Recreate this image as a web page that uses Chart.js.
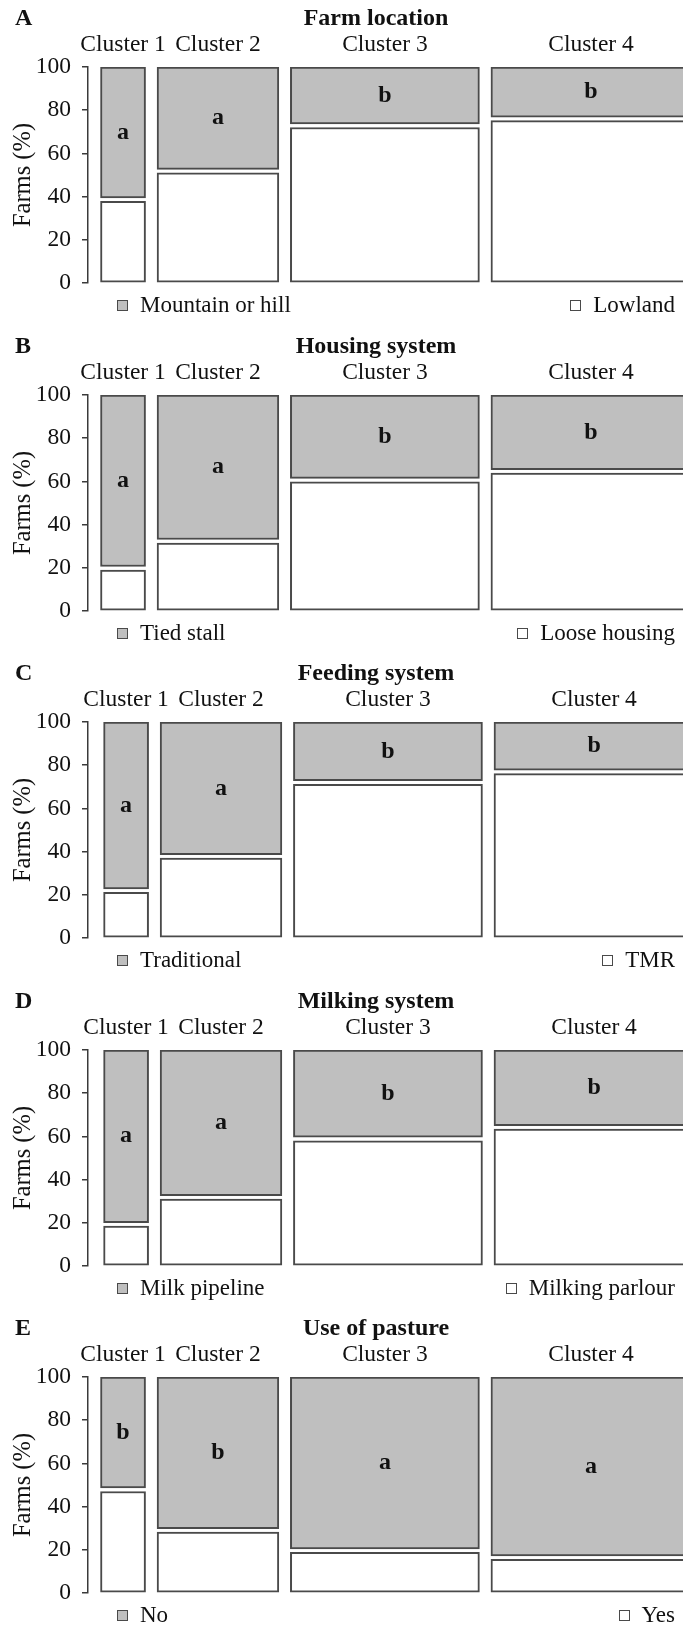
<!DOCTYPE html>
<html lang="en">
<head>
<meta charset="UTF-8">
<title>Farm characteristics by cluster</title>
<script src="https://cdn.jsdelivr.net/npm/chart.js"></script>
<style>
  body { margin: 0; background: #fff; }
  #figure { position: relative; width: 683px; height: 1625px; overflow: hidden;
            font-family: "Liberation Serif", "DejaVu Serif", serif; color: #111; }
  .panel { position: absolute; left: 0; width: 683px; height: 328px; }
  .panel canvas { position: absolute; left: 0; top: 0; }
  .letter, .title { position: absolute; top: 3px; font-weight: bold; font-size: 24px; line-height: 28px; white-space: nowrap; }
  .letter { left: 15px; }
  .title { left: 376px; transform: translateX(-50%); }
  .legend { position: absolute; top: 291px; font-size: 23px; line-height: 28px; white-space: nowrap;
            display: flex; align-items: center; }
  .legend.left { left: 117px; }
  .legend.right { right: 8px; }
  .swatch { display: inline-block; width: 9px; height: 9px; border: 1.5px solid #4a4a4a; margin-right: 12px; }
</style>
</head>
<body>
<div id="figure"></div>

<script>
// cluster names and their share of farms (column widths of the mosaic)
const clusterNames = ['Cluster 1', 'Cluster 2', 'Cluster 3', 'Cluster 4'];
const clusterShare = [8.1, 21.9, 34.0, 36.0];

const panelLetters = ['A', 'B', 'C', 'D', 'E'];
const panelTitles = ['Farm location', 'Housing system', 'Feeding system', 'Milking system', 'Use of pasture'];
const upperLabels = ['Mountain or hill', 'Tied stall', 'Traditional', 'Milk pipeline', 'No'];   // grey part
const lowerLabels = ['Lowland', 'Loose housing', 'TMR', 'Milking parlour', 'Yes'];           // white part

// % of farms in the lower (white) category per cluster
const lowland        = [38.6, 51.8, 72.8, 76.0];
const looseHousing   = [19.8, 32.3, 60.6, 64.6];
const tmr            = [21.9, 37.8, 72.0, 76.9];
const milkingParlour = [19.3, 31.8, 58.8, 64.2];
const pastureYes     = [47.8, 29.0, 19.6, 16.4];

// significance letters
const locationLetters = ['a', 'a', 'b', 'b'];
const housingLetters  = ['a', 'a', 'b', 'b'];
const feedingLetters  = ['a', 'a', 'b', 'b'];
const milkingLetters  = ['a', 'a', 'b', 'b'];
const pastureLetters  = ['b', 'b', 'a', 'a'];

const yTicks = [0, 20, 40, 60, 80, 100];

const lowerShares = [lowland, looseHousing, tmr, milkingParlour, pastureYes];
const letterSets = [locationLetters, housingLetters, feedingLetters, milkingLetters, pastureLetters];

// styling / layout
const FONT = '"Liberation Serif", "DejaVu Serif", serif';
const TEXT = '#111';
const AXIS = '#3a3a3a';
const EDGE = '#4a4a4a';
const GREY = '#bfbfbf';
const PANEL_STEP = 327.5;
const X_MAX = 107;
const GAP_X = 2.07;   // space between columns (x units)
const GAP_Y = 0.8;    // half of the space between the two tiles (% units)
const MARGINS = [2.25, 2.25, 2.8, 2.8, 2.25];

const letterPlugin = {
    id: 'letters',
    afterDatasetsDraw(chart) {
        const c = chart.ctx;
        c.save();
        c.font = 'bold 24px ' + FONT;
        c.fillStyle = TEXT;
        c.textAlign = 'center';
        c.textBaseline = 'middle';
        chart.data.datasets.forEach((ds, i) => {
            const bar = chart.getDatasetMeta(i).data[1];
            c.fillText(ds.letter, bar.x, (bar.y + bar.base) / 2);
        });
        c.restore();
    }
};

function buildPanel(k) {
    const fig = document.getElementById('figure');
    const div = document.createElement('div');
    div.className = 'panel';
    div.style.top = Math.round(k * PANEL_STEP) + 'px';

    const canvas = document.createElement('canvas');
    canvas.width = 683;
    canvas.height = 328;
    div.appendChild(canvas);

    div.insertAdjacentHTML('beforeend',
        `<div class="letter">${panelLetters[k]}</div>` +
        `<div class="title">${panelTitles[k]}</div>` +
        `<div class="legend left"><span class="swatch" style="background:${GREY}"></span>${upperLabels[k]}</div>` +
        `<div class="legend right"><span class="swatch" style="background:#fff"></span>${lowerLabels[k]}</div>`);
    fig.appendChild(div);

    // column centres along the x axis
    const centers = [];
    let x = MARGINS[k];
    clusterShare.forEach(w => { centers.push(x + w / 2); x += w + GAP_X; });

    const lower = lowerShares[k];
    const datasets = clusterNames.map((name, i) => ({
        label: name,
        letter: letterSets[k][i],
        data: [
            { x: centers[i], y: [0, lower[i] - GAP_Y] },
            { x: centers[i], y: [lower[i] + GAP_Y, 100] }
        ],
        backgroundColor: ['#ffffff', GREY],
        borderColor: EDGE,
        borderWidth: 2,
        borderSkipped: false,
        stack: 'mosaic',
        barThickness: ctx => {
            const s = ctx.chart.scales.x;
            return s.getPixelForValue(clusterShare[i]) - s.getPixelForValue(0);
        }
    }));

    new Chart(canvas, {
        type: 'bar',
        data: { datasets },
        plugins: [letterPlugin],
        options: {
            responsive: false,
            animation: false,
            devicePixelRatio: 1,
            layout: { padding: { left: 0, right: 0, top: 0, bottom: 45 } },
            plugins: { legend: { display: false }, tooltip: { enabled: false } },
            scales: {
                x: { type: 'linear', display: false, min: 0, max: X_MAX, offset: false, stacked: true },
                xTop: {
                    type: 'linear', position: 'top', min: 0, max: X_MAX, offset: false,
                    grid: { display: false, drawTicks: false },
                    border: { display: false },
                    afterBuildTicks: axis => { axis.ticks = centers.map(v => ({ value: v })); },
                    afterFit: axis => { axis.height = 67; },
                    ticks: {
                        autoSkip: false, maxRotation: 0, padding: 8, color: TEXT,
                        font: { family: FONT, size: 23.5 },
                        callback: (v, i) => clusterNames[i]
                    }
                },
                y: {
                    min: 0, max: 100, stacked: false,
                    afterBuildTicks: axis => { axis.ticks = yTicks.map(v => ({ value: v })); },
                    afterFit: axis => { axis.width = 88; },
                    ticks: { padding: 11, color: TEXT, font: { family: FONT, size: 23.5 } },
                    grid: { drawOnChartArea: false, tickLength: 6, color: AXIS, lineWidth: 1.5 },
                    border: { color: AXIS, width: 1.5 },
                    title: {
                        display: true, text: 'Farms (%)', color: TEXT,
                        font: { family: FONT, size: 24.5, lineHeight: 1 },
                        padding: { top: 11.5, bottom: 0 }
                    }
                }
            }
        }
    });
}

panelTitles.forEach((t, k) => buildPanel(k));
</script>
</body>
</html>
